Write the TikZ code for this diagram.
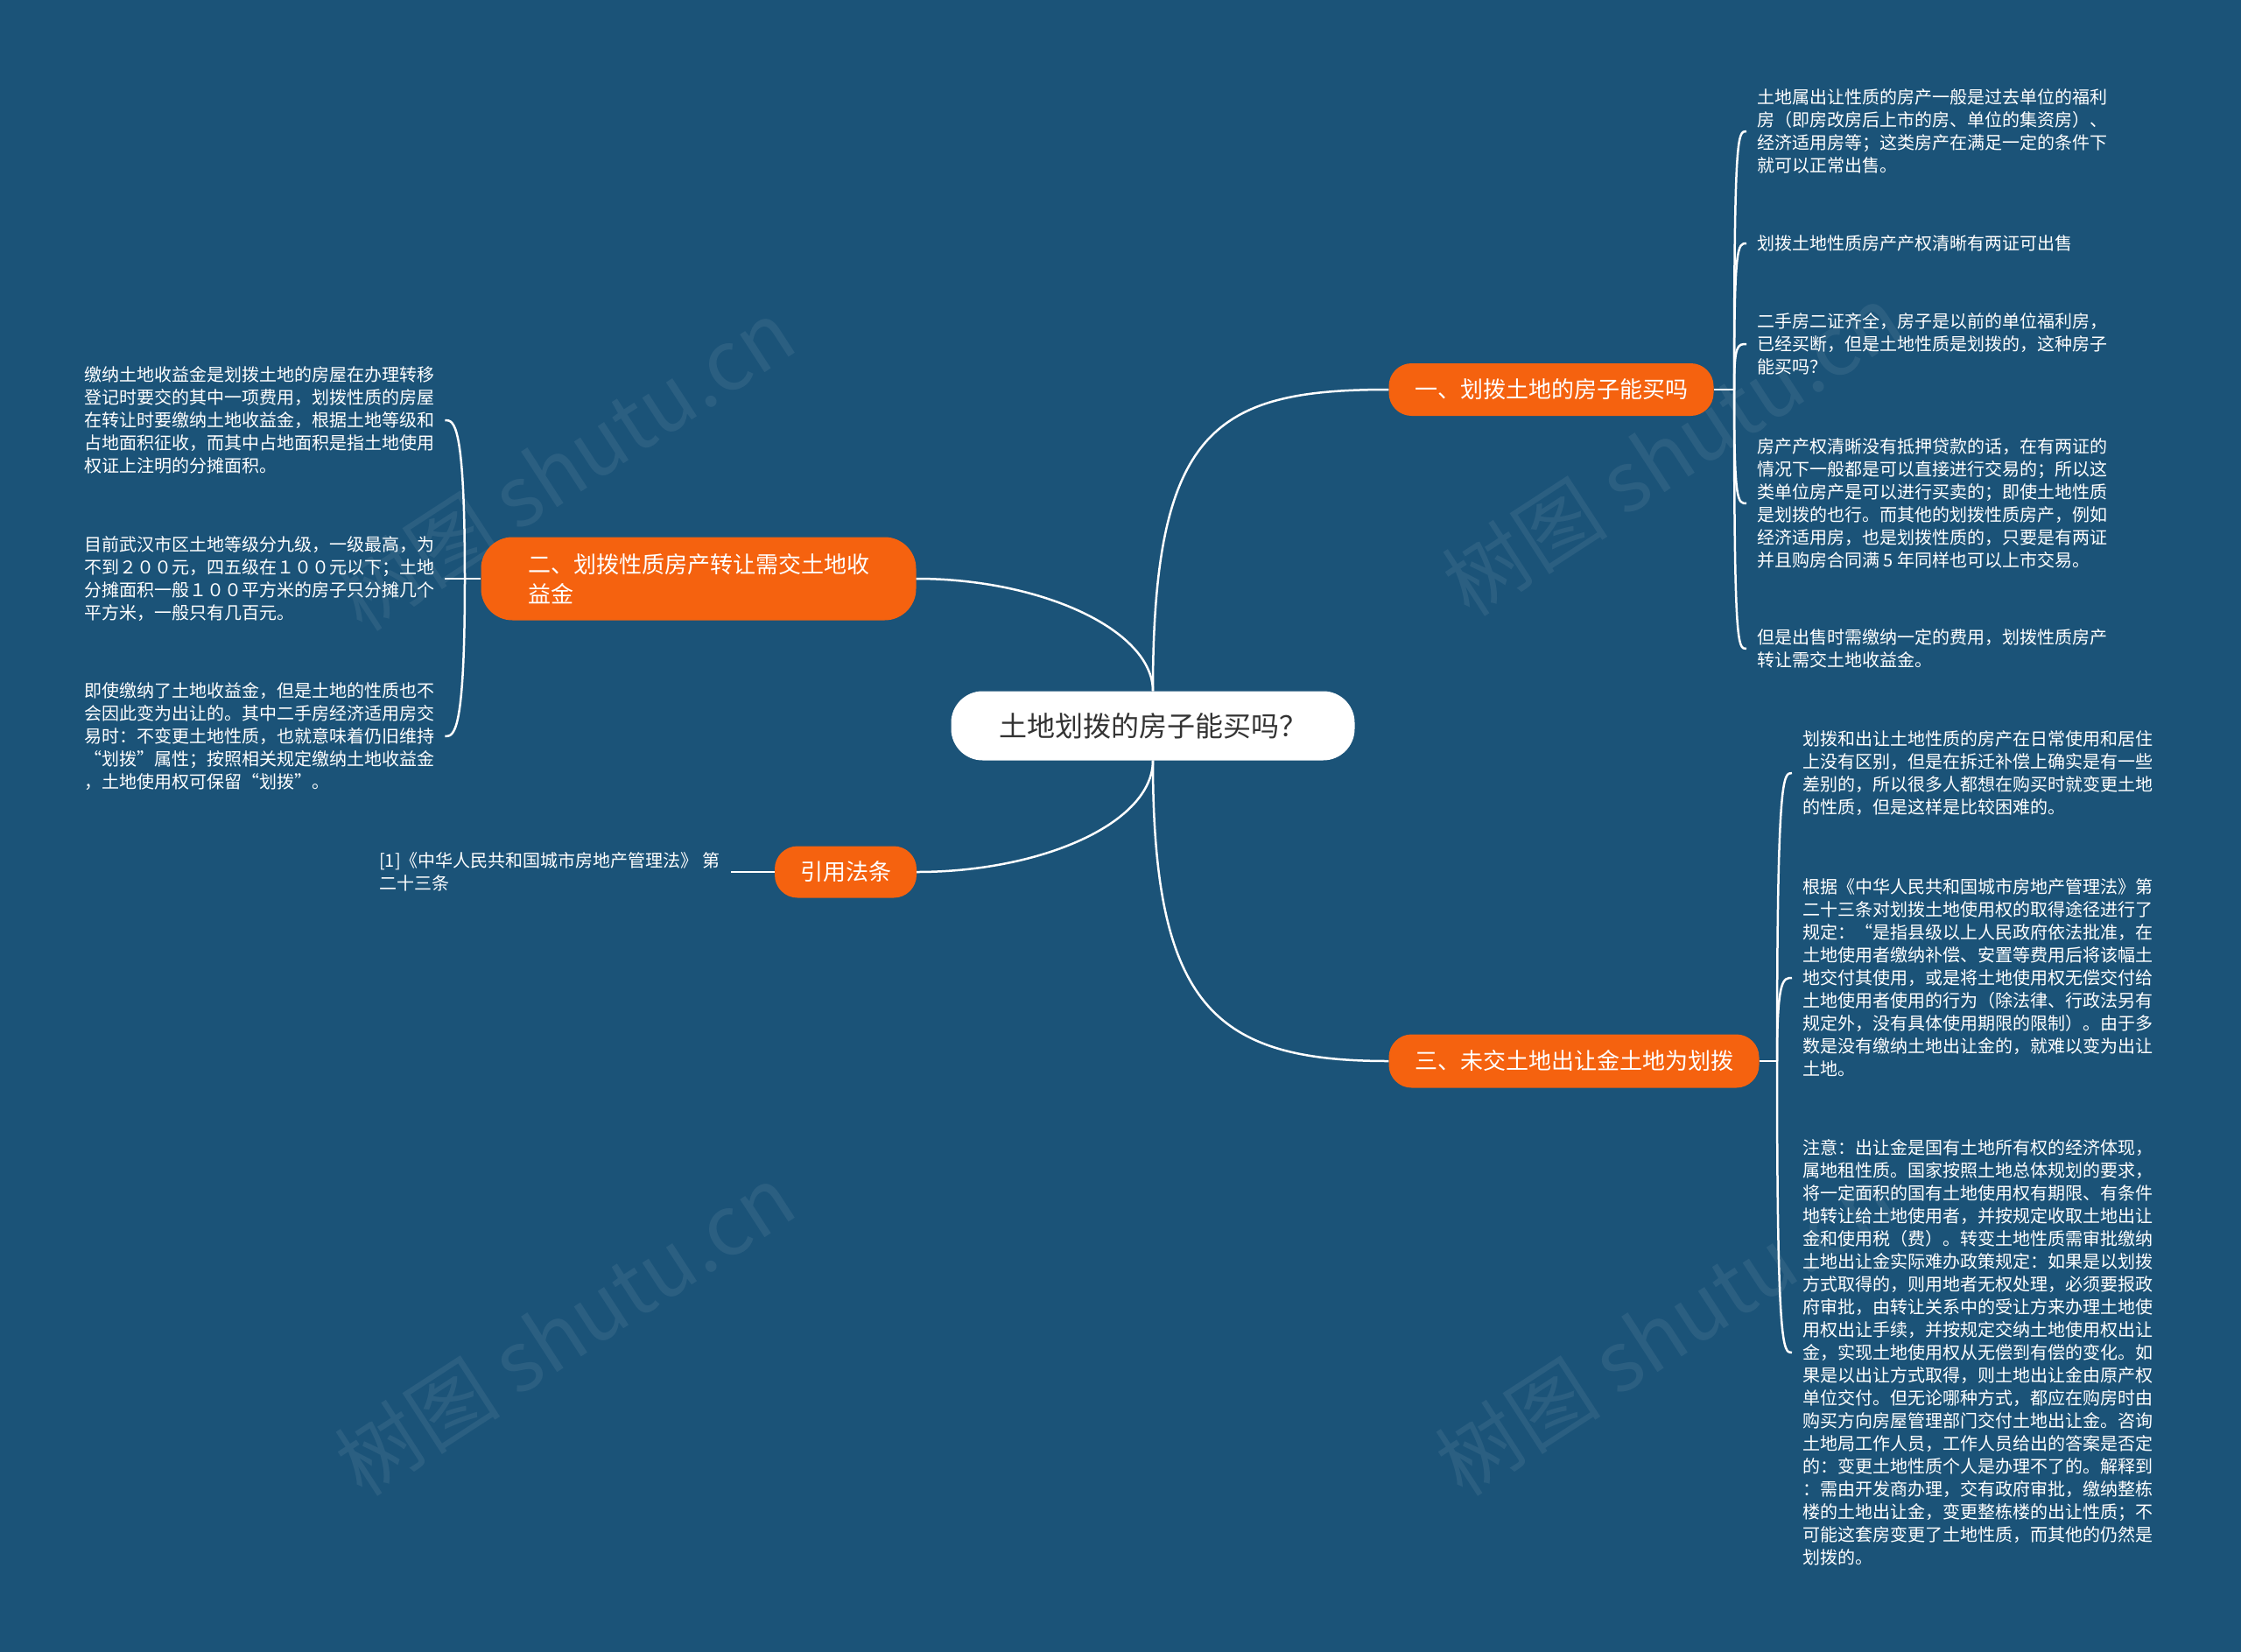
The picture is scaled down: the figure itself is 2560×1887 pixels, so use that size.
\documentclass[tikz,border=0pt]{standalone}
\usepackage{fontspec}
\setmainfont{Noto Sans CJK SC}
\definecolor{bg}{HTML}{1B5378}
\definecolor{org}{HTML}{F5620F}
\definecolor{dark}{HTML}{333333}
\begin{document}
\begin{tikzpicture}[x=1pt,y=-1pt,
  conn/.style={draw=white, line width=2.5pt},
  mainbox/.style={fill=white, rounded corners=36pt, minimum width=461pt, minimum height=79pt, inner sep=0pt, text=dark, font=\fontsize{32}{40}\selectfont},
  branch/.style={fill=org, text=white, inner sep=0pt, rounded corners=26pt, font=\fontsize{26}{34}\selectfont},
  leaf/.style={text=white, align=left, inner xsep=12pt, inner ysep=0pt, font=\fontsize{20}{26}\selectfont},
  wm/.style={text=white, text opacity=0.07, rotate=33, font=\fontsize{95}{95}\selectfont}]
\fill[bg] (0,0) rectangle (2560,1887);
% watermarks
\node[wm] (wm1) at (645,531) {树图 shutu.cn};
\node[wm] (wm2) at (1910,514) {树图 shutu.cn};
\node[wm] (wm3) at (645,1519) {树图 shutu.cn};
\node[wm] (wm4) at (1902,1519) {树图 shutu.cn};
% main nodes
\node[mainbox] (c) at (1317,829) {土地划拨的房子能买吗？};
\node[branch, minimum width=371pt, minimum height=60pt] (b1) at (1772,445) {一、划拨土地的房子能买吗};
\node[branch, minimum width=497pt, minimum height=95pt, align=left, rounded corners=36pt] (b2) at (798,661) {二、划拨性质房产转让需交土地收\\益金};
\node[branch, minimum width=423pt, minimum height=61pt] (b3) at (1798,1212) {三、未交土地出让金土地为划拨};
\node[branch, minimum width=162pt, minimum height=59pt] (b4) at (966,996) {引用法条};
\draw[conn] (c.north) .. controls (1317,490) and (1388,445) .. (b1.west);
\draw[conn] (c.north) .. controls (1317,720) and (1190,661) .. (b2.east);
\draw[conn] (c.south) .. controls (1317,940) and (1190,996) .. (b4.east);
\draw[conn] (c.south) .. controls (1317,1150) and (1388,1212) .. (b3.west);
% branch 1 leaves
\node[leaf, anchor=west] (l11) at (1995,150) {土地属出让性质的房产一般是过去单位的福利\\房（即房改房后上市的房、单位的集资房）、\\经济适用房等；这类房产在满足一定的条件下\\就可以正常出售。};
\node[leaf, anchor=west] (l12) at (1995,278) {划拨土地性质房产产权清晰有两证可出售};
\node[leaf, anchor=west] (l13) at (1995,393) {二手房二证齐全，房子是以前的单位福利房，\\已经买断，但是土地性质是划拨的，这种房子\\能买吗？};
\node[leaf, anchor=west] (l14) at (1995,575) {房产产权清晰没有抵押贷款的话，在有两证的\\情况下一般都是可以直接进行交易的；所以这\\类单位房产是可以进行买卖的；即使土地性质\\是划拨的也行。而其他的划拨性质房产，例如\\经济适用房，也是划拨性质的，只要是有两证\\并且购房合同满 5 年同样也可以上市交易。};
\node[leaf, anchor=west] (l15) at (1995,741) {但是出售时需缴纳一定的费用，划拨性质房产\\转让需交土地收益金。};
\coordinate (j1) at (1981,445);
\draw[conn] (b1.east) -- (j1);
\foreach \l in {l11,l12,l13,l14,l15}
  \draw[conn] (j1) .. controls (j1 |- \l.west) and ([xshift=-10pt]\l.west) .. (\l.west);
% branch 3 leaves
\node[leaf, anchor=west] (l31) at (2047,883) {划拨和出让土地性质的房产在日常使用和居住\\上没有区别，但是在拆迁补偿上确实是有一些\\差别的，所以很多人都想在购买时就变更土地\\的性质，但是这样是比较困难的。};
\node[leaf, anchor=west] (l32) at (2047,1117) {根据《中华人民共和国城市房地产管理法》第\\二十三条对划拨土地使用权的取得途径进行了\\规定：“是指县级以上人民政府依法批准，在\\土地使用者缴纳补偿、安置等费用后将该幅土\\地交付其使用，或是将土地使用权无偿交付给\\土地使用者使用的行为（除法律、行政法另有\\规定外，没有具体使用期限的限制）。由于多\\数是没有缴纳土地出让金的，就难以变为出让\\土地。};
\node[leaf, anchor=west] (l33) at (2047,1545) {注意：出让金是国有土地所有权的经济体现，\\属地租性质。国家按照土地总体规划的要求，\\将一定面积的国有土地使用权有期限、有条件\\地转让给土地使用者，并按规定收取土地出让\\金和使用税（费）。转变土地性质需审批缴纳\\土地出让金实际难办政策规定：如果是以划拨\\方式取得的，则用地者无权处理，必须要报政\\府审批，由转让关系中的受让方来办理土地使\\用权出让手续，并按规定交纳土地使用权出让\\金，实现土地使用权从无偿到有偿的变化。如\\果是以出让方式取得，则土地出让金由原产权\\单位交付。但无论哪种方式，都应在购房时由\\购买方向房屋管理部门交付土地出让金。咨询\\土地局工作人员，工作人员给出的答案是否定\\的：变更土地性质个人是办理不了的。解释到\\：需由开发商办理，交有政府审批，缴纳整栋\\楼的土地出让金，变更整栋楼的出让性质；不\\可能这套房变更了土地性质，而其他的仍然是\\划拨的。};
\coordinate (j3) at (2030,1212);
\draw[conn] (b3.east) -- (j3);
\foreach \l in {l31,l32,l33}
  \draw[conn] (j3) .. controls (j3 |- \l.west) and ([xshift=-10pt]\l.west) .. (\l.west);
% branch 2 leaves
\node[leaf, anchor=west] (l21) at (84,480) {缴纳土地收益金是划拨土地的房屋在办理转移\\登记时要交的其中一项费用，划拨性质的房屋\\在转让时要缴纳土地收益金，根据土地等级和\\占地面积征收，而其中占地面积是指土地使用\\权证上注明的分摊面积。};
\node[leaf, anchor=west] (l22) at (84,661) {目前武汉市区土地等级分九级，一级最高，为\\不到２００元，四五级在１００元以下；土地\\分摊面积一般１００平方米的房子只分摊几个\\平方米，一般只有几百元。};
\node[leaf, anchor=west] (l23) at (84,841) {即使缴纳了土地收益金，但是土地的性质也不\\会因此变为出让的。其中二手房经济适用房交\\易时：不变更土地性质，也就意味着仍旧维持\\“划拨”属性；按照相关规定缴纳土地收益金\\，土地使用权可保留“划拨”。};
\coordinate (j2) at (531,661);
\draw[conn] (b2.west) -- (j2);
\foreach \l in {l21,l22,l23}
  \draw[conn] (j2) .. controls (j2 |- \l.east) and ([xshift=10pt]\l.east) .. (\l.east);
% branch 4 leaf
\node[leaf, anchor=west] (l41) at (421,996) {[1]《中华人民共和国城市房地产管理法》 第\\二十三条};
\draw[conn] (b4.west) -- (l41.east);
\end{tikzpicture}
\end{document}
